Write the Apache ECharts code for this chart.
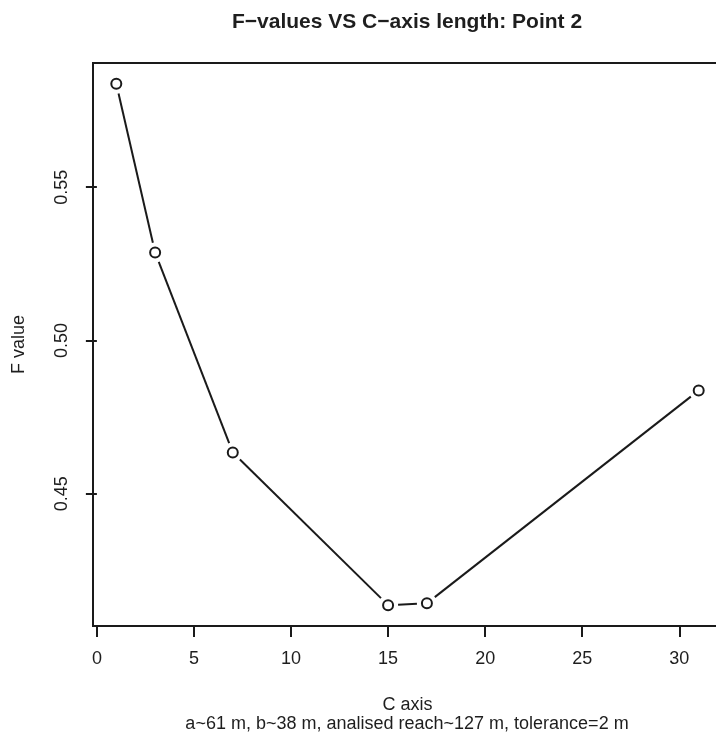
<!DOCTYPE html>
<html>
<head>
<meta charset="utf-8">
<script src="https://cdn.jsdelivr.net/npm/echarts@6/dist/echarts.min.js"></script>
<style>
  html, body { margin: 0; padding: 0; background: #fff; }
  #chart { width: 716px; height: 738px; }
</style>
</head>
<body>
<div id="chart"></div>
<script>
// ---- data ----
const cAxis = [1, 3, 7, 15, 17, 31];
const fValues = [0.5837, 0.5287, 0.4635, 0.4137, 0.4143, 0.4837];
const xTicks = [0, 5, 10, 15, 20, 25, 30];
const yTicks = [0.45, 0.50, 0.55];
const titleText = 'F\u2212values VS C\u2212axis length: Point 2';
const xName = 'C axis';
const yName = 'F value';
const subText = 'a~61 m, b~38 m, analised reach~127 m, tolerance=2 m';

// R-style 4% padding of axis ranges
function padRange(arr) {
  const mn = Math.min(...arr), mx = Math.max(...arr);
  const d = (mx - mn) * 0.04;
  return [mn - d, mx + d];
}
const xr = padRange(cAxis);
const yr = padRange(fValues);

const points = cAxis.map((x, i) => [x, fValues[i]]);
const segments = cAxis.slice(0, -1).map((x, i) => [x, fValues[i], cAxis[i + 1], fValues[i + 1]]);

const FONT = 'Liberation Sans, Arial, Helvetica, sans-serif';
const INK = '#1a1a1a';
const TXT = '#1e1e1e';

const chart = echarts.init(document.getElementById('chart'), null, { renderer: 'canvas' });
chart.setOption({
  animation: false,
  backgroundColor: '#fff',
  title: [
    {
      text: titleText, left: 407, top: 12, textAlign: 'center', padding: 0,
      textStyle: { fontFamily: FONT, fontSize: 21, fontWeight: 'bold', color: TXT }
    },
    {
      text: subText, left: 407, top: 715, textAlign: 'center', padding: 0,
      textStyle: { fontFamily: FONT, fontSize: 18, fontWeight: 'normal', color: TXT }
    }
  ],
  grid: {
    left: 93, top: 63, right: -6, bottom: 112,
    show: true, borderColor: INK, borderWidth: 2, backgroundColor: 'transparent',
    containLabel: false, outerBoundsMode: 'none'
  },
  xAxis: {
    type: 'value', min: xr[0], max: xr[1],
    splitLine: { show: false },
    axisLine: { show: false },
    axisTick: { show: true, length: 11, customValues: xTicks, lineStyle: { color: INK, width: 2 } },
    axisLabel: { customValues: xTicks, fontFamily: FONT, fontSize: 18, color: TXT, margin: 24,
                 formatter: v => String(v) },
    name: xName, nameLocation: 'middle', nameGap: 70,
    nameTextStyle: { fontFamily: FONT, fontSize: 18, color: TXT }
  },
  yAxis: {
    type: 'value', min: yr[0], max: yr[1],
    splitLine: { show: false },
    axisLine: { show: false },
    axisTick: { show: true, length: 11, customValues: yTicks, lineStyle: { color: INK, width: 2 } },
    axisLabel: { customValues: yTicks, rotate: 90, fontFamily: FONT, fontSize: 18, color: TXT, margin: 22,
                 formatter: v => v.toFixed(2) },
    name: yName, nameLocation: 'middle', nameRotate: 90, nameGap: 65,
    nameTextStyle: { fontFamily: FONT, fontSize: 18, color: TXT }
  },
  series: [
    {
      type: 'custom',
      data: segments,
      encode: { x: [0, 2], y: [1, 3] },
      z: 2,
      renderItem: function (params, api) {
        const p1 = api.coord([api.value(0), api.value(1)]);
        const p2 = api.coord([api.value(2), api.value(3)]);
        const dx = p2[0] - p1[0], dy = p2[1] - p1[1];
        const L = Math.hypot(dx, dy);
        const g = 10;
        if (L <= 2 * g) return null;
        const ux = dx / L, uy = dy / L;
        return {
          type: 'line',
          shape: { x1: p1[0] + ux * g, y1: p1[1] + uy * g, x2: p2[0] - ux * g, y2: p2[1] - uy * g },
          style: { stroke: INK, lineWidth: 2 }
        };
      }
    },
    {
      type: 'scatter',
      data: points,
      symbol: 'circle',
      symbolSize: 10,
      z: 3,
      itemStyle: { color: '#fff', borderColor: INK, borderWidth: 2, opacity: 1 }
    }
  ]
});
</script>
</body>
</html>
